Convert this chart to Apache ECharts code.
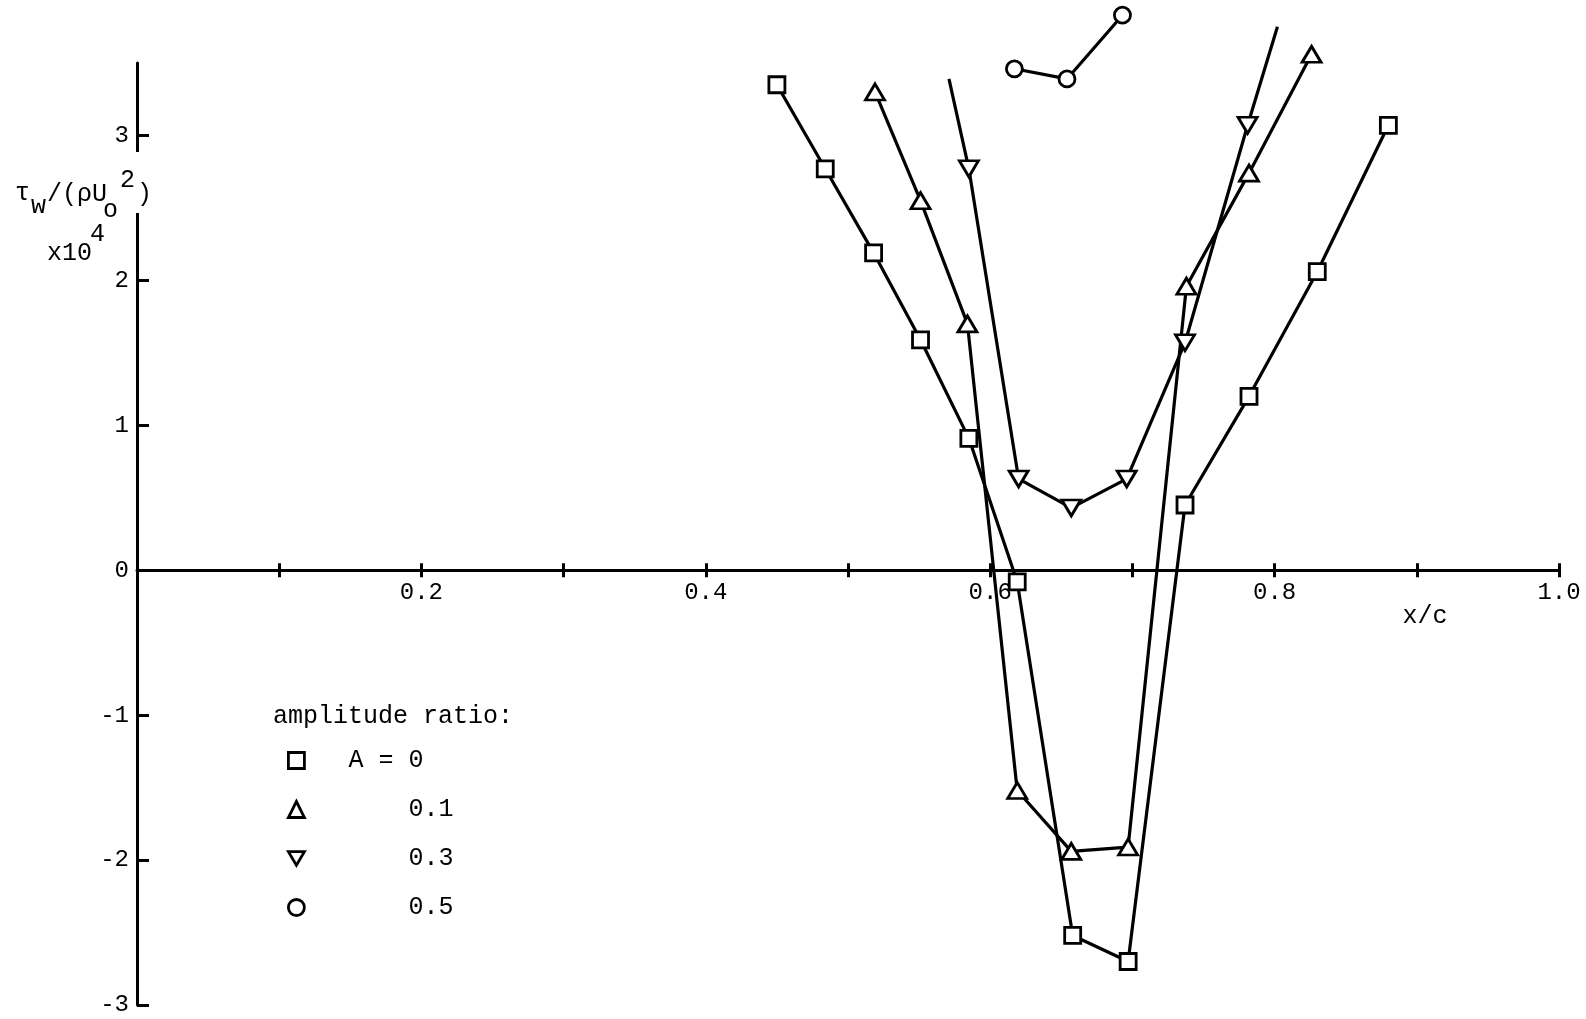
<!DOCTYPE html>
<html>
<head>
<meta charset="utf-8">
<script src="https://cdn.jsdelivr.net/npm/echarts@6/dist/echarts.min.js"></script>
<style>
  html, body { margin: 0; padding: 0; background: #fff; }
  #chart { width: 1586px; height: 1019px; }
</style>
</head>
<body>
<div id="chart"></div>
<script>
// Axis ticks and labels
const xTickValues = [0.1, 0.2, 0.3, 0.4, 0.5, 0.6, 0.7, 0.8, 0.9, 1.0];
const xLabelValues = [0.2, 0.4, 0.6, 0.8, 1.0];
const yTickValues = [-3, -2, -1, 0, 1, 2, 3];

// Series names (amplitude ratio)
const seriesNames = ['A = 0', 'A = 0.1', 'A = 0.3', 'A = 0.5'];

// A = 0 (squares)
const xA0 = [0.450, 0.484, 0.518, 0.551, 0.585, 0.619, 0.658, 0.697, 0.737, 0.782, 0.830, 0.880];
const yA0 = [3.35, 2.77, 2.19, 1.59, 0.91, -0.08, -2.52, -2.70, 0.45, 1.20, 2.06, 3.07];

// A = 0.1 (triangles)
const xA01 = [0.519, 0.551, 0.584, 0.619, 0.657, 0.697, 0.738, 0.782, 0.826];
const yA01 = [3.30, 2.55, 1.70, -1.52, -1.94, -1.91, 1.96, 2.74, 3.56];

// A = 0.3 (inverted triangles); the curve runs on past the first and last markers
const xA03 = [0.571, 0.585, 0.620, 0.657, 0.696, 0.737, 0.781, 0.802];
const yA03 = [3.39, 2.77, 0.63, 0.43, 0.63, 1.57, 3.07, 3.75];

// A = 0.5 (circles)
const xA05 = [0.617, 0.654, 0.693];
const yA05 = [3.46, 3.39, 3.83];

const FONT = '"Liberation Mono", "DejaVu Sans Mono", monospace';
const DOWN_TRIANGLE = 'path://M0,0L20,0L10,17Z';

// plot area and value range
const WIDTH = 1586, HEIGHT = 1019;
const GRID = { left: 137, right: 27, top: 63, bottom: 14 };
const Y_MIN = -3, Y_MAX = 3.5;
// the x axis sits on y = 0: shift it up from the bottom edge of the grid
const plotHeight = HEIGHT - GRID.top - GRID.bottom;
const xAxisOffset = -plotHeight * (0 - Y_MIN) / (Y_MAX - Y_MIN);

function pairs(xs, ys) { return xs.map((x, i) => [x, ys[i]]); }

function lineSeries(name, data, symbol, symbolSize) {
  return {
    name, type: 'line', data, symbol, symbolSize,
    clip: false,
    showAllSymbol: true,
    lineStyle: { color: '#000', width: 3.2 },
    itemStyle: { color: '#fff', borderColor: '#000', borderWidth: 2.8 },
    emphasis: { disabled: true },
    z: 3
  };
}

// open ends of the A = 0.3 curve carry no marker
const dataA03 = pairs(xA03, yA03).map((p, i, arr) =>
  (i === 0 || i === arr.length - 1) ? { value: p, symbol: 'none' } : p);

function txt(text, x, y, opts) {
  return {
    type: 'text', x, y, z: 101,
    style: Object.assign({
      text, fontFamily: FONT, fontSize: 25, fill: '#000',
      align: 'left', verticalAlign: 'middle'
    }, opts || {})
  };
}

const tickLine = { color: '#000', width: 3 };

const chart = echarts.init(document.getElementById('chart'), null, { renderer: 'canvas' });

chart.setOption({
  animation: false,
  backgroundColor: '#fff',
  grid: Object.assign({ containLabel: false, outerBoundsMode: 'none' }, GRID),
  xAxis: [{
    type: 'value', min: 0, max: 1, interval: 0.1, position: 'bottom', offset: xAxisOffset,
    axisLine: { show: true, onZero: false, lineStyle: { color: '#000', width: 3 } },
    axisTick: { show: true, inside: false, length: 7, customValues: xTickValues, lineStyle: tickLine },
    axisLabel: { customValues: xLabelValues, formatter: v => v.toFixed(1),
      fontFamily: FONT, fontSize: 24, color: '#000', margin: 10 },
    splitLine: { show: false }
  }, {
    type: 'value', min: 0, max: 1, interval: 0.1, position: 'bottom', offset: xAxisOffset,
    axisLine: { show: false, onZero: false },
    axisTick: { show: true, inside: true, length: 7, customValues: xTickValues, lineStyle: tickLine },
    axisLabel: { show: false },
    splitLine: { show: false }
  }],
  yAxis: {
    type: 'value', min: Y_MIN, max: Y_MAX, interval: 1,
    axisLine: { show: true, onZero: false, lineStyle: { color: '#000', width: 3 } },
    axisTick: { show: true, inside: true, length: 12, customValues: yTickValues, lineStyle: tickLine },
    axisLabel: { customValues: yTickValues, fontFamily: FONT, fontSize: 24, color: '#000', margin: 8 },
    splitLine: { show: false }
  },
  legend: {
    orient: 'vertical', left: 282, top: 743,
    itemWidth: 16, itemHeight: 16, itemGap: 24,
    selectedMode: false,
    data: [
      { name: seriesNames[0], icon: 'rect' },
      { name: seriesNames[1], icon: 'triangle' },
      { name: seriesNames[2], icon: DOWN_TRIANGLE },
      { name: seriesNames[3], icon: 'circle' }
    ],
    itemStyle: { color: '#fff', borderColor: '#000', borderWidth: 2.8 },
    formatter: name => name === seriesNames[0] ? name : '    ' + name.slice(4),
    textStyle: { fontFamily: FONT, fontSize: 25, color: '#000', padding: [0, 0, 4, 39] }
  },
  graphic: [
    // break in the vertical axis behind the axis title
    { type: 'rect', z: 100, shape: { x: 130, y: 152, width: 14, height: 61 }, style: { fill: '#fff' } },
    txt('τ', 15, 193),
    txt('w', 31, 206),
    txt('/(ρU', 47, 194),
    txt('o', 103, 210),
    txt('2', 120, 180),
    txt(')', 137, 194),
    txt('x10', 47, 253),
    txt('4', 90, 234),
    txt('x/c', 1425, 616, { align: 'center' }),
    txt('amplitude ratio:', 273, 716)
  ],
  series: [
    lineSeries(seriesNames[0], pairs(xA0, yA0), 'rect', 16),
    lineSeries(seriesNames[1], pairs(xA01, yA01), 'triangle', [19, 16]),
    lineSeries(seriesNames[2], dataA03, DOWN_TRIANGLE, [19, 16]),
    lineSeries(seriesNames[3], pairs(xA05, yA05), 'circle', 16)
  ]
});
</script>
</body>
</html>
